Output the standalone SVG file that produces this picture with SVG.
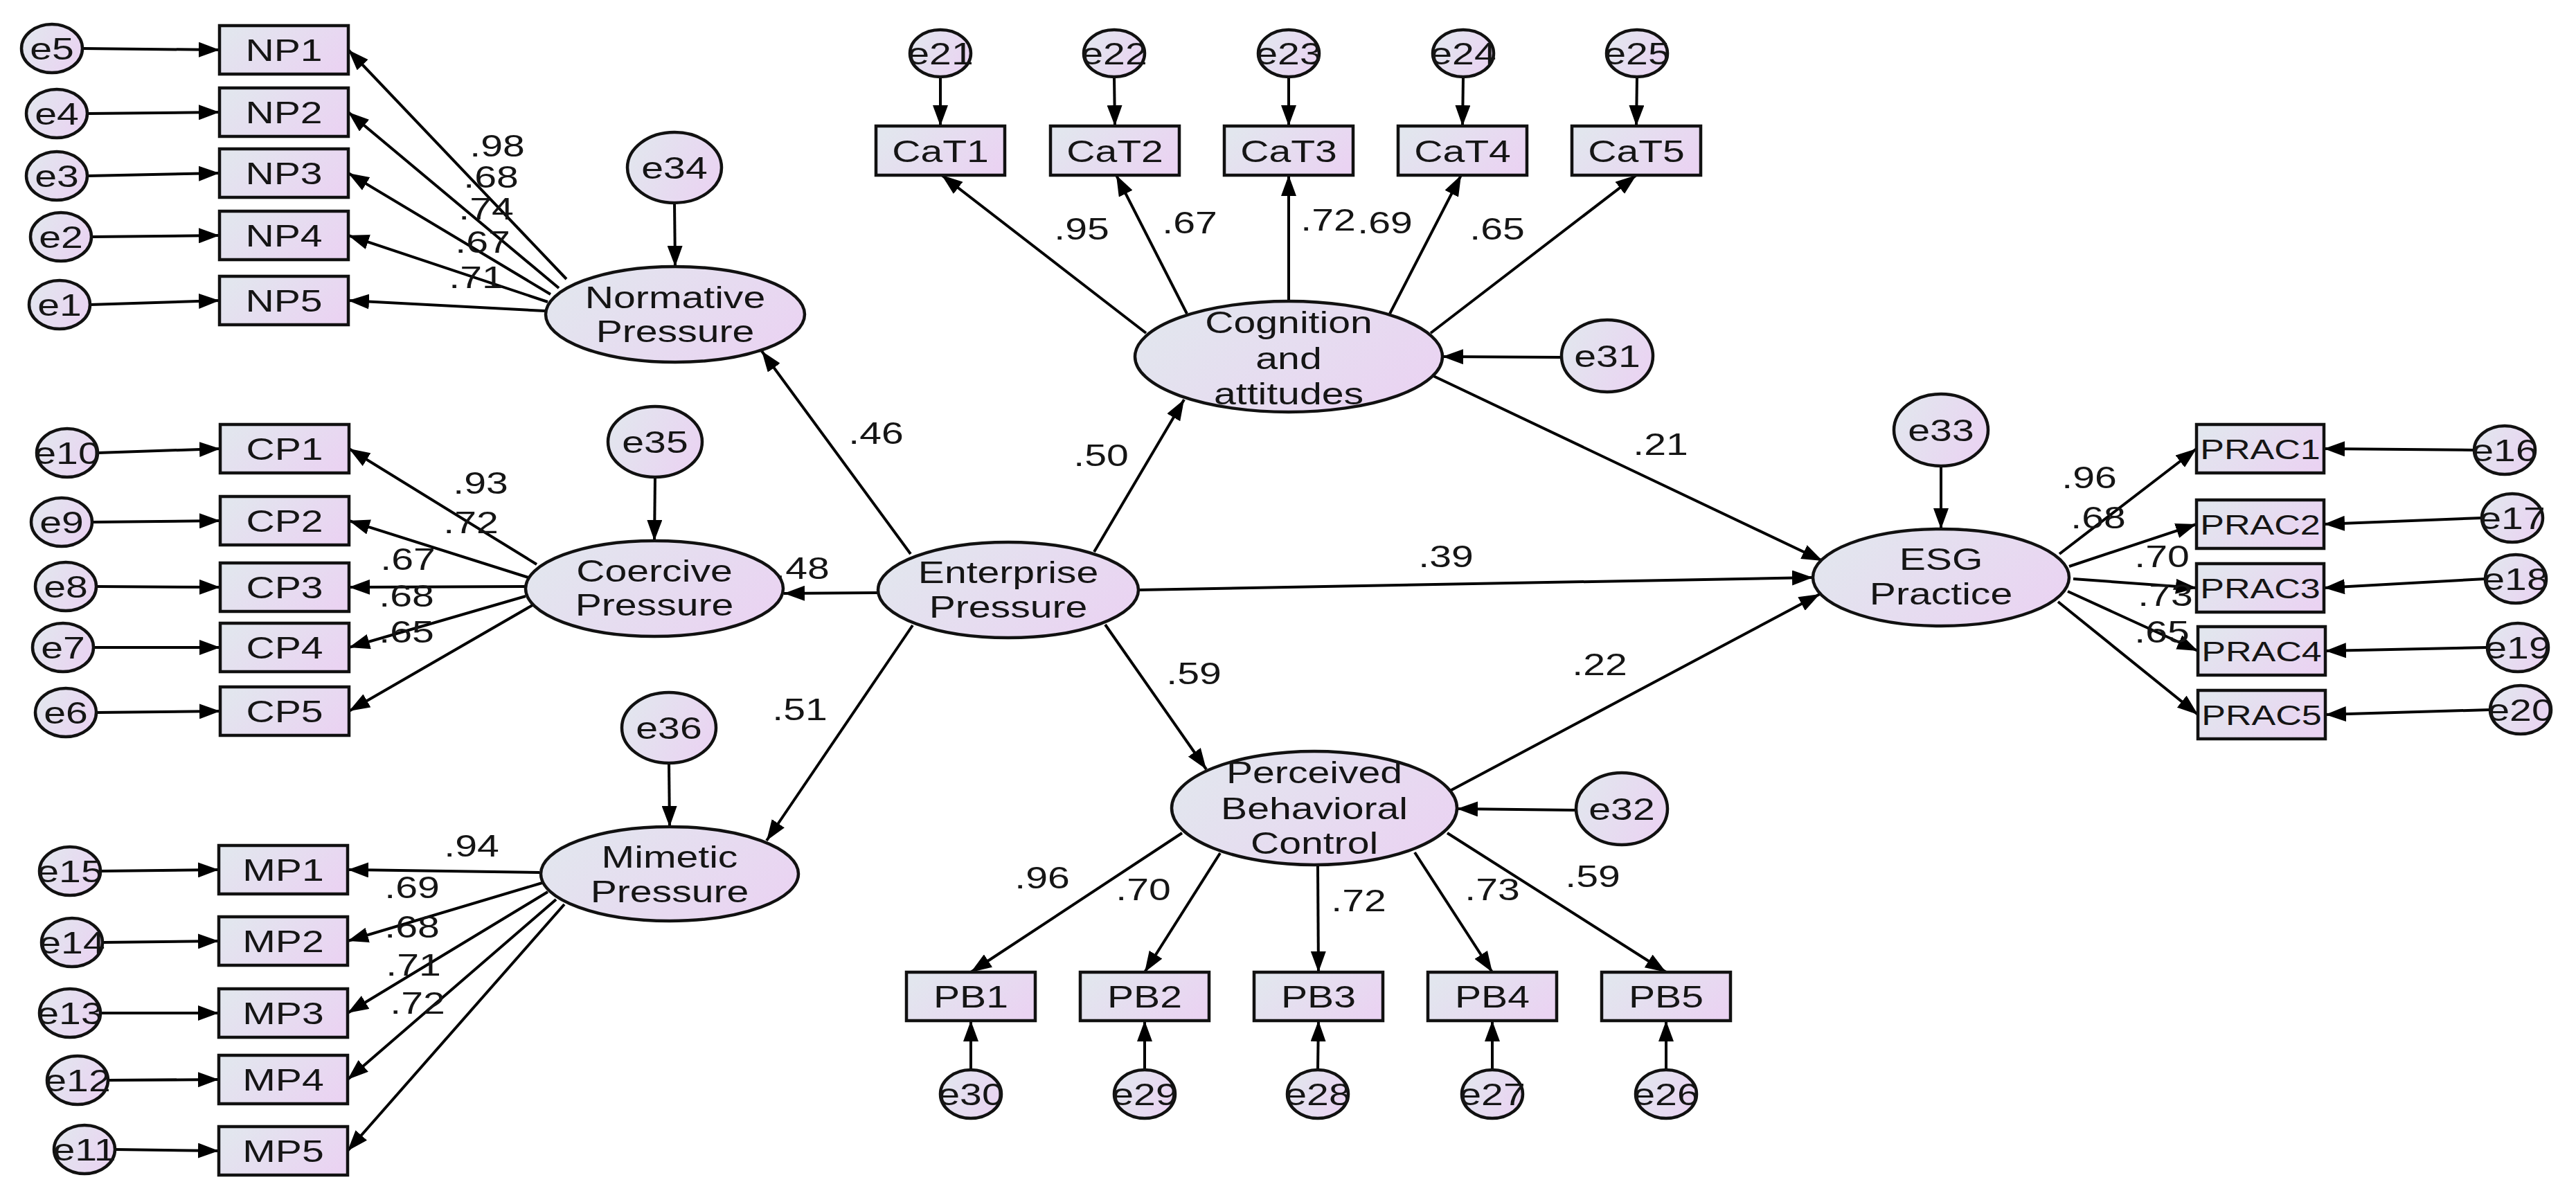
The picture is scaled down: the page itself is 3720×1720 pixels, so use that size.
<svg xmlns="http://www.w3.org/2000/svg" width="3720" height="1720" viewBox="0 0 3720 1720">
<style>
.n{fill:url(#g);stroke:#111;stroke-width:4.5}
.c line{stroke:#000;stroke-width:4;marker-end:url(#ah)}
text{font-family:"Liberation Sans",Arial,sans-serif;font-size:45px;fill:#151515;text-anchor:middle}
text.s{font-size:41px}
</style>
<defs>
<linearGradient id="g" x1="0" y1="0.3" x2="1" y2="0.7">
<stop offset="0" stop-color="#e2e6ee"/>
<stop offset="1" stop-color="#ead3f2"/>
</linearGradient>
<marker id="ah" markerUnits="userSpaceOnUse" markerWidth="30" markerHeight="22" refX="30" refY="11" orient="auto">
<path d="M0,0 L30,11 L0,22 z" fill="#000"/>
</marker>
</defs>
<rect width="3720" height="1720" fill="#fff"/>

<g id="connectors" class="c">
<line x1="119" y1="70" x2="317" y2="72"/>
<line x1="126" y1="164" x2="317" y2="162"/>
<line x1="126" y1="254" x2="317" y2="250"/>
<line x1="132" y1="342" x2="317" y2="340"/>
<line x1="130" y1="440" x2="317" y2="434"/>
<line x1="141" y1="654" x2="318" y2="648"/>
<line x1="133" y1="754" x2="318" y2="752"/>
<line x1="139" y1="847" x2="318" y2="848"/>
<line x1="135" y1="935" x2="318" y2="935"/>
<line x1="139" y1="1029" x2="318" y2="1027"/>
<line x1="145" y1="1258" x2="316" y2="1256"/>
<line x1="148" y1="1361" x2="316" y2="1359"/>
<line x1="145" y1="1463" x2="316" y2="1463"/>
<line x1="156" y1="1560" x2="316" y2="1559"/>
<line x1="166" y1="1660" x2="316" y2="1662"/>
<line x1="1358" y1="111" x2="1358" y2="182"/>
<line x1="1609" y1="111" x2="1610" y2="182"/>
<line x1="1861" y1="111" x2="1861" y2="182"/>
<line x1="2113" y1="111" x2="2112" y2="182"/>
<line x1="2364" y1="111" x2="2363" y2="182"/>
<line x1="1402" y1="1545" x2="1402" y2="1474"/>
<line x1="1653" y1="1545" x2="1653" y2="1474"/>
<line x1="1903" y1="1545" x2="1904" y2="1474"/>
<line x1="2155" y1="1545" x2="2155" y2="1474"/>
<line x1="2406" y1="1545" x2="2406" y2="1474"/>
<line x1="3573" y1="650" x2="3356" y2="648"/>
<line x1="3584" y1="748" x2="3356" y2="757"/>
<line x1="3589" y1="836" x2="3356" y2="849"/>
<line x1="3592" y1="935" x2="3358" y2="940"/>
<line x1="3596" y1="1025" x2="3358" y2="1032"/>
<line x1="974" y1="293" x2="975" y2="385"/>
<line x1="946" y1="689" x2="945" y2="781"/>
<line x1="966" y1="1102" x2="967" y2="1194"/>
<line x1="2255" y1="516" x2="2083" y2="515"/>
<line x1="2803" y1="673" x2="2803" y2="764"/>
<line x1="2276" y1="1170" x2="2104" y2="1168"/>
<line x1="818" y1="403" x2="503" y2="72"/>
<line x1="807" y1="416" x2="503" y2="162"/>
<line x1="795" y1="425" x2="503" y2="250"/>
<line x1="791" y1="436" x2="503" y2="340"/>
<line x1="787" y1="449" x2="503" y2="434"/>
<line x1="775" y1="815" x2="504" y2="648"/>
<line x1="763" y1="834" x2="504" y2="752"/>
<line x1="758" y1="847" x2="504" y2="848"/>
<line x1="759" y1="861" x2="504" y2="935"/>
<line x1="769" y1="874" x2="504" y2="1027"/>
<line x1="779" y1="1260" x2="502" y2="1256"/>
<line x1="783" y1="1275" x2="502" y2="1359"/>
<line x1="791" y1="1288" x2="502" y2="1463"/>
<line x1="803" y1="1299" x2="502" y2="1559"/>
<line x1="815" y1="1306" x2="502" y2="1662"/>
<line x1="1655" y1="481" x2="1360" y2="253"/>
<line x1="1714" y1="453" x2="1612" y2="253"/>
<line x1="1861" y1="436" x2="1861" y2="253"/>
<line x1="2007" y1="453" x2="2110" y2="253"/>
<line x1="2066" y1="481" x2="2363" y2="253"/>
<line x1="1707" y1="1203" x2="1402" y2="1404"/>
<line x1="1762" y1="1232" x2="1653" y2="1404"/>
<line x1="1903" y1="1251" x2="1904" y2="1404"/>
<line x1="2043" y1="1231" x2="2155" y2="1404"/>
<line x1="2090" y1="1203" x2="2406" y2="1404"/>
<line x1="2974" y1="800" x2="3172" y2="648"/>
<line x1="2988" y1="818" x2="3172" y2="757"/>
<line x1="2994" y1="836" x2="3172" y2="849"/>
<line x1="2986" y1="854" x2="3174" y2="940"/>
<line x1="2972" y1="869" x2="3174" y2="1032"/>
<line x1="1315" y1="800" x2="1100" y2="507"/>
<line x1="1268" y1="856" x2="1132" y2="857"/>
<line x1="1318" y1="903" x2="1107" y2="1214"/>
<line x1="1580" y1="797" x2="1710" y2="577"/>
<line x1="1644" y1="852" x2="2618" y2="834"/>
<line x1="1596" y1="902" x2="1742" y2="1111"/>
<line x1="2070" y1="543" x2="2632" y2="810"/>
<line x1="2094" y1="1142" x2="2628" y2="858"/>
</g>

<g id="labels">
<text transform="translate(718 226) scale(1.27 1)">.98</text>
<text transform="translate(709 271) scale(1.27 1)">.68</text>
<text transform="translate(702 317) scale(1.27 1)">.74</text>
<text transform="translate(697 365) scale(1.27 1)">.67</text>
<text transform="translate(688 416) scale(1.27 1)">.71</text>
<text transform="translate(694 713) scale(1.27 1)">.93</text>
<text transform="translate(680 770) scale(1.27 1)">.72</text>
<text transform="translate(589 823) scale(1.27 1)">.67</text>
<text transform="translate(587 876) scale(1.27 1)">.68</text>
<text transform="translate(587 928) scale(1.27 1)">.65</text>
<text transform="translate(681 1237) scale(1.27 1)">.94</text>
<text transform="translate(595 1297) scale(1.27 1)">.69</text>
<text transform="translate(595 1354) scale(1.27 1)">.68</text>
<text transform="translate(597 1409) scale(1.27 1)">.71</text>
<text transform="translate(603 1464) scale(1.27 1)">.72</text>
<text transform="translate(1562 346) scale(1.27 1)">.95</text>
<text transform="translate(1718 337) scale(1.27 1)">.67</text>
<text transform="translate(1918 333) scale(1.27 1)">.72</text>
<text transform="translate(2000 337) scale(1.27 1)">.69</text>
<text transform="translate(2162 346) scale(1.27 1)">.65</text>
<text transform="translate(1505 1283) scale(1.27 1)">.96</text>
<text transform="translate(1651 1300) scale(1.27 1)">.70</text>
<text transform="translate(1962 1316) scale(1.27 1)">.72</text>
<text transform="translate(2155 1300) scale(1.27 1)">.73</text>
<text transform="translate(2300 1281) scale(1.27 1)">.59</text>
<text transform="translate(3017 705) scale(1.27 1)">.96</text>
<text transform="translate(3030 763) scale(1.27 1)">.68</text>
<text transform="translate(3122 819) scale(1.27 1)">.70</text>
<text transform="translate(3127 875) scale(1.27 1)">.73</text>
<text transform="translate(3122 928) scale(1.27 1)">.65</text>
<text transform="translate(1265 641) scale(1.27 1)">.46</text>
<text transform="translate(1158 836) scale(1.27 1)">.48</text>
<text transform="translate(1155 1040) scale(1.27 1)">.51</text>
<text transform="translate(1590 673) scale(1.27 1)">.50</text>
<text transform="translate(2088 819) scale(1.27 1)">.39</text>
<text transform="translate(1724 988) scale(1.27 1)">.59</text>
<text transform="translate(2398 657) scale(1.27 1)">.21</text>
<text transform="translate(2310 975) scale(1.27 1)">.22</text>
</g>

<g id="NP1"><rect class="n" x="317" y="37" width="186" height="70"/><text transform="translate(410 88) scale(1.27 1)">NP1</text></g>
<g id="NP2"><rect class="n" x="317" y="127" width="186" height="70"/><text transform="translate(410 178) scale(1.27 1)">NP2</text></g>
<g id="NP3"><rect class="n" x="317" y="215" width="186" height="70"/><text transform="translate(410 266) scale(1.27 1)">NP3</text></g>
<g id="NP4"><rect class="n" x="317" y="305" width="186" height="70"/><text transform="translate(410 356) scale(1.27 1)">NP4</text></g>
<g id="NP5"><rect class="n" x="317" y="399" width="186" height="70"/><text transform="translate(410 450) scale(1.27 1)">NP5</text></g>

<g id="CP1"><rect class="n" x="318" y="613" width="186" height="70"/><text transform="translate(411 664) scale(1.27 1)">CP1</text></g>
<g id="CP2"><rect class="n" x="318" y="717" width="186" height="70"/><text transform="translate(411 768) scale(1.27 1)">CP2</text></g>
<g id="CP3"><rect class="n" x="318" y="813" width="186" height="70"/><text transform="translate(411 864) scale(1.27 1)">CP3</text></g>
<g id="CP4"><rect class="n" x="318" y="900" width="186" height="70"/><text transform="translate(411 951) scale(1.27 1)">CP4</text></g>
<g id="CP5"><rect class="n" x="318" y="992" width="186" height="70"/><text transform="translate(411 1043) scale(1.27 1)">CP5</text></g>

<g id="MP1"><rect class="n" x="316" y="1221" width="186" height="70"/><text transform="translate(409 1272) scale(1.27 1)">MP1</text></g>
<g id="MP2"><rect class="n" x="316" y="1324" width="186" height="70"/><text transform="translate(409 1375) scale(1.27 1)">MP2</text></g>
<g id="MP3"><rect class="n" x="316" y="1428" width="186" height="70"/><text transform="translate(409 1479) scale(1.27 1)">MP3</text></g>
<g id="MP4"><rect class="n" x="316" y="1524" width="186" height="70"/><text transform="translate(409 1575) scale(1.27 1)">MP4</text></g>
<g id="MP5"><rect class="n" x="316" y="1627" width="186" height="70"/><text transform="translate(409 1678) scale(1.27 1)">MP5</text></g>

<g id="CaT1"><rect class="n" x="1265" y="182" width="186" height="71"/><text transform="translate(1358 234) scale(1.27 1)">CaT1</text></g>
<g id="CaT2"><rect class="n" x="1517" y="182" width="186" height="71"/><text transform="translate(1610 234) scale(1.27 1)">CaT2</text></g>
<g id="CaT3"><rect class="n" x="1768" y="182" width="186" height="71"/><text transform="translate(1861 234) scale(1.27 1)">CaT3</text></g>
<g id="CaT4"><rect class="n" x="2019" y="182" width="186" height="71"/><text transform="translate(2112 234) scale(1.27 1)">CaT4</text></g>
<g id="CaT5"><rect class="n" x="2270" y="182" width="186" height="71"/><text transform="translate(2363 234) scale(1.27 1)">CaT5</text></g>

<g id="PB1"><rect class="n" x="1309" y="1404" width="186" height="70"/><text transform="translate(1402 1455) scale(1.27 1)">PB1</text></g>
<g id="PB2"><rect class="n" x="1560" y="1404" width="186" height="70"/><text transform="translate(1653 1455) scale(1.27 1)">PB2</text></g>
<g id="PB3"><rect class="n" x="1811" y="1404" width="186" height="70"/><text transform="translate(1904 1455) scale(1.27 1)">PB3</text></g>
<g id="PB4"><rect class="n" x="2062" y="1404" width="186" height="70"/><text transform="translate(2155 1455) scale(1.27 1)">PB4</text></g>
<g id="PB5"><rect class="n" x="2313" y="1404" width="186" height="70"/><text transform="translate(2406 1455) scale(1.27 1)">PB5</text></g>

<g id="PRAC1"><rect class="n" x="3172" y="613" width="184" height="70"/><text class="s" transform="translate(3264 663) scale(1.27 1)">PRAC1</text></g>
<g id="PRAC2"><rect class="n" x="3172" y="722" width="184" height="70"/><text class="s" transform="translate(3264 772) scale(1.27 1)">PRAC2</text></g>
<g id="PRAC3"><rect class="n" x="3172" y="814" width="184" height="70"/><text class="s" transform="translate(3264 864) scale(1.27 1)">PRAC3</text></g>
<g id="PRAC4"><rect class="n" x="3174" y="905" width="184" height="70"/><text class="s" transform="translate(3266 955) scale(1.27 1)">PRAC4</text></g>
<g id="PRAC5"><rect class="n" x="3174" y="997" width="184" height="70"/><text class="s" transform="translate(3266 1047) scale(1.27 1)">PRAC5</text></g>

<g id="e5"><ellipse class="n" cx="75" cy="70" rx="44" ry="35"/><text transform="translate(75 86) scale(1.27 1)">e5</text></g>
<g id="e4"><ellipse class="n" cx="82" cy="164" rx="44" ry="35"/><text transform="translate(82 180) scale(1.27 1)">e4</text></g>
<g id="e3"><ellipse class="n" cx="82" cy="254" rx="44" ry="35"/><text transform="translate(82 270) scale(1.27 1)">e3</text></g>
<g id="e2"><ellipse class="n" cx="88" cy="342" rx="44" ry="35"/><text transform="translate(88 358) scale(1.27 1)">e2</text></g>
<g id="e1"><ellipse class="n" cx="86" cy="440" rx="44" ry="35"/><text transform="translate(86 456) scale(1.27 1)">e1</text></g>

<g id="e10"><ellipse class="n" cx="97" cy="654" rx="44" ry="35"/><text transform="translate(97 670) scale(1.27 1)">e10</text></g>
<g id="e9"><ellipse class="n" cx="89" cy="754" rx="44" ry="35"/><text transform="translate(89 770) scale(1.27 1)">e9</text></g>
<g id="e8"><ellipse class="n" cx="95" cy="847" rx="44" ry="35"/><text transform="translate(95 863) scale(1.27 1)">e8</text></g>
<g id="e7"><ellipse class="n" cx="91" cy="935" rx="44" ry="35"/><text transform="translate(91 951) scale(1.27 1)">e7</text></g>
<g id="e6"><ellipse class="n" cx="95" cy="1029" rx="44" ry="35"/><text transform="translate(95 1045) scale(1.27 1)">e6</text></g>

<g id="e15"><ellipse class="n" cx="101" cy="1258" rx="44" ry="35"/><text transform="translate(101 1274) scale(1.27 1)">e15</text></g>
<g id="e14"><ellipse class="n" cx="104" cy="1361" rx="44" ry="35"/><text transform="translate(104 1377) scale(1.27 1)">e14</text></g>
<g id="e13"><ellipse class="n" cx="101" cy="1463" rx="44" ry="35"/><text transform="translate(101 1479) scale(1.27 1)">e13</text></g>
<g id="e12"><ellipse class="n" cx="112" cy="1560" rx="44" ry="35"/><text transform="translate(112 1576) scale(1.27 1)">e12</text></g>
<g id="e11"><ellipse class="n" cx="122" cy="1660" rx="44" ry="35"/><text transform="translate(122 1676) scale(1.27 1)">e11</text></g>

<g id="e21"><ellipse class="n" cx="1358" cy="77" rx="44" ry="34"/><text transform="translate(1358 93) scale(1.27 1)">e21</text></g>
<g id="e22"><ellipse class="n" cx="1609" cy="77" rx="44" ry="34"/><text transform="translate(1609 93) scale(1.27 1)">e22</text></g>
<g id="e23"><ellipse class="n" cx="1861" cy="77" rx="44" ry="34"/><text transform="translate(1861 93) scale(1.27 1)">e23</text></g>
<g id="e24"><ellipse class="n" cx="2113" cy="77" rx="44" ry="34"/><text transform="translate(2113 93) scale(1.27 1)">e24</text></g>
<g id="e25"><ellipse class="n" cx="2364" cy="77" rx="44" ry="34"/><text transform="translate(2364 93) scale(1.27 1)">e25</text></g>

<g id="e30"><ellipse class="n" cx="1402" cy="1580" rx="44" ry="35"/><text transform="translate(1402 1596) scale(1.27 1)">e30</text></g>
<g id="e29"><ellipse class="n" cx="1653" cy="1580" rx="44" ry="35"/><text transform="translate(1653 1596) scale(1.27 1)">e29</text></g>
<g id="e28"><ellipse class="n" cx="1903" cy="1580" rx="44" ry="35"/><text transform="translate(1903 1596) scale(1.27 1)">e28</text></g>
<g id="e27"><ellipse class="n" cx="2155" cy="1580" rx="44" ry="35"/><text transform="translate(2155 1596) scale(1.27 1)">e27</text></g>
<g id="e26"><ellipse class="n" cx="2406" cy="1580" rx="44" ry="35"/><text transform="translate(2406 1596) scale(1.27 1)">e26</text></g>

<g id="e16"><ellipse class="n" cx="3617" cy="650" rx="44" ry="35"/><text transform="translate(3617 666) scale(1.27 1)">e16</text></g>
<g id="e17"><ellipse class="n" cx="3628" cy="748" rx="44" ry="35"/><text transform="translate(3628 764) scale(1.27 1)">e17</text></g>
<g id="e18"><ellipse class="n" cx="3633" cy="836" rx="44" ry="35"/><text transform="translate(3633 852) scale(1.27 1)">e18</text></g>
<g id="e19"><ellipse class="n" cx="3636" cy="935" rx="44" ry="35"/><text transform="translate(3636 951) scale(1.27 1)">e19</text></g>
<g id="e20"><ellipse class="n" cx="3640" cy="1025" rx="44" ry="35"/><text transform="translate(3640 1041) scale(1.27 1)">e20</text></g>

<g id="e34"><ellipse class="n" cx="974" cy="242" rx="68" ry="51"/><text transform="translate(974 258) scale(1.27 1)">e34</text></g>
<g id="e35"><ellipse class="n" cx="946" cy="638" rx="68" ry="51"/><text transform="translate(946 654) scale(1.27 1)">e35</text></g>
<g id="e36"><ellipse class="n" cx="966" cy="1051" rx="68" ry="51"/><text transform="translate(966 1067) scale(1.27 1)">e36</text></g>
<g id="e31"><ellipse class="n" cx="2321" cy="514" rx="66" ry="52"/><text transform="translate(2321 530) scale(1.27 1)">e31</text></g>
<g id="e33"><ellipse class="n" cx="2803" cy="621" rx="68" ry="52"/><text transform="translate(2803 637) scale(1.27 1)">e33</text></g>
<g id="e32"><ellipse class="n" cx="2342" cy="1168" rx="66" ry="52"/><text transform="translate(2342 1184) scale(1.27 1)">e32</text></g>

<g id="normative"><ellipse class="n" cx="975" cy="454" rx="187" ry="69"/><text transform="translate(975 445) scale(1.27 1)">Normative</text><text transform="translate(975 494) scale(1.27 1)">Pressure</text></g>
<g id="coercive"><ellipse class="n" cx="945" cy="850" rx="186" ry="69"/><text transform="translate(945 840) scale(1.27 1)">Coercive</text><text transform="translate(945 889) scale(1.27 1)">Pressure</text></g>
<g id="mimetic"><ellipse class="n" cx="967" cy="1262" rx="186" ry="68"/><text transform="translate(967 1253) scale(1.27 1)">Mimetic</text><text transform="translate(967 1303) scale(1.27 1)">Pressure</text></g>
<g id="enterprise"><ellipse class="n" cx="1456" cy="852" rx="188" ry="69"/><text transform="translate(1456 842) scale(1.27 1)">Enterprise</text><text transform="translate(1456 892) scale(1.27 1)">Pressure</text></g>
<g id="cognition"><ellipse class="n" cx="1861" cy="515" rx="222" ry="80"/><text transform="translate(1861 481) scale(1.27 1)">Cognition</text><text transform="translate(1861 533) scale(1.27 1)">and</text><text transform="translate(1861 584) scale(1.27 1)">attitudes</text></g>
<g id="pbc"><ellipse class="n" cx="1898" cy="1167" rx="206" ry="82"/><text transform="translate(1898 1131) scale(1.27 1)">Perceived</text><text transform="translate(1898 1183) scale(1.27 1)">Behavioral</text><text transform="translate(1898 1233) scale(1.27 1)">Control</text></g>
<g id="esg"><ellipse class="n" cx="2803" cy="834" rx="185" ry="70"/><text transform="translate(2803 823) scale(1.27 1)">ESG</text><text transform="translate(2803 873) scale(1.27 1)">Practice</text></g>
</svg>
